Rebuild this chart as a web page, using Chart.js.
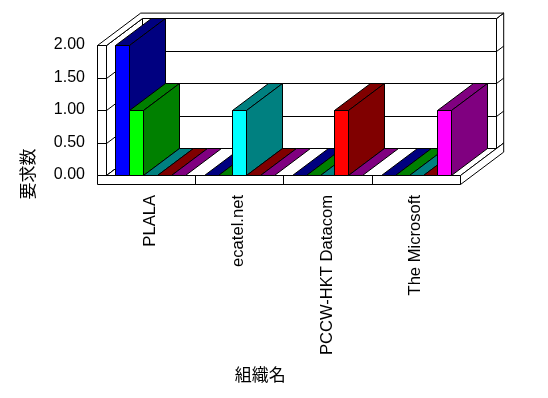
<!DOCTYPE html>
<html>
<head>
<meta charset="utf-8">
<script src="https://cdn.jsdelivr.net/npm/chart.js@4/dist/chart.umd.min.js"></script>
<style>
    html, body { margin: 0; padding: 0; background: #fff; }
    canvas { display: block; }
</style>
</head>
<body>
<canvas id="chart" width="548" height="398"></canvas>
<script>
// 数据：组织名 × 5 个系列（要求数）
var categories = ['PLALA', 'ecatel.net', 'PCCW-HKT Datacom', 'The Microsoft'];
var seriesA = [2, 0, 0, 0];
var seriesB = [1, 0, 0, 0];
var seriesC = [0, 1, 0, 0];
var seriesD = [0, 0, 1, 0];
var seriesE = [0, 0, 0, 1];
var yMin = 0;
var yMax = 2;
var yStep = 0.5;
var xTitle = '組織名';
var yTitle = '要求数';

// 正面色 / 侧面色（Excel 默认 3D 柱形配色）
var FRONT_COLORS = ['#0000ff', '#00ff00', '#00ffff', '#ff0000', '#ff00ff'];
var SIDE_COLORS = ['#000080', '#008000', '#008080', '#800000', '#800080'];

// 3D 投影参数
var DEPTH_X = 36;
var DEPTH_Y = -27;
var WALL = 9;        // 左墙 / 地板厚度
var BACK = 0.2;      // 背墙厚度（相对深度）

function proj(x, y, z) {
    return [x + z * DEPTH_X, y + z * DEPTH_Y];
}

function poly(ctx, pts, fill) {
    ctx.beginPath();
    ctx.moveTo(pts[0][0], pts[0][1]);
    for (var i = 1; i < pts.length; i++) {
        ctx.lineTo(pts[i][0], pts[i][1]);
    }
    ctx.closePath();
    ctx.fillStyle = fill;
    ctx.fill();
    ctx.stroke();
}

function line(ctx, a, b) {
    ctx.beginPath();
    ctx.moveTo(a[0], a[1]);
    ctx.lineTo(b[0], b[1]);
    ctx.stroke();
}

var frame3d = {
    id: 'frame3d',
    beforeDatasetsDraw: function (chart) {
        var ctx = chart.ctx;
        var area = chart.chartArea;
        var yScale = chart.scales.y;
        var xScale = chart.scales.x;
        var L = Math.round(area.left) + 0.5;
        var R = Math.round(area.right) + 0.5;
        var T = Math.round(area.top) + 0.5;
        var B = Math.round(area.bottom) + 0.5;
        var tickYs = yScale.ticks.map(function (t) {
            return Math.round(yScale.getPixelForValue(t.value)) + 0.5;
        });

        ctx.save();
        ctx.strokeStyle = '#000';
        ctx.lineWidth = 1;

        // 背墙内面 + 网格线
        poly(ctx, [proj(L, T, 1), proj(R, T, 1), proj(R, B, 1), proj(L, B, 1)], '#fff');
        tickYs.forEach(function (ty) {
            line(ctx, proj(L, ty, 1), proj(R, ty, 1));
        });
        // 背墙右端面
        poly(ctx, [proj(R, T, 1), proj(R, B, 1), proj(R, B, 1 + BACK), proj(R, T, 1 + BACK)], '#fff');
        tickYs.forEach(function (ty) {
            line(ctx, proj(R, ty, 1), proj(R, ty, 1 + BACK));
        });
        // 左墙内面
        poly(ctx, [proj(L, T, 0), proj(L, T, 1), proj(L, B, 1), proj(L, B, 0)], '#fff');
        tickYs.forEach(function (ty) {
            line(ctx, proj(L, ty, 0), proj(L, ty, 1));
        });
        // 墙顶
        poly(ctx, [
            proj(L - WALL, T, 0), proj(L, T, 0), proj(L, T, 1), proj(R, T, 1),
            proj(R, T, 1 + BACK), proj(L - WALL, T, 1 + BACK)
        ], '#fff');
        // 左墙正面 + 刻度
        poly(ctx, [[L - WALL, T], [L, T], [L, B], [L - WALL, B]], '#fff');
        tickYs.forEach(function (ty) {
            line(ctx, [L - WALL, ty], [L, ty]);
        });
        // 地板顶面 / 右端面 / 正面
        poly(ctx, [proj(L, B, 0), proj(R, B, 0), proj(R, B, 1), proj(L, B, 1)], '#fff');
        poly(ctx, [proj(R, B, 0), proj(R, B + WALL, 0), proj(R, B + WALL, 1 + BACK), proj(R, B, 1 + BACK)], '#fff');
        poly(ctx, [[L - WALL, B], [R, B], [R, B + WALL], [L - WALL, B + WALL]], '#fff');
        for (var i = 0; i < categories.length - 1; i++) {
            var sx = Math.round((xScale.getPixelForValue(i) + xScale.getPixelForValue(i + 1)) / 2) + 0.5;
            line(ctx, [sx, B], [sx, B + WALL]);
        }

        // 柱体：按分类从左到右、系列从左到右绘制
        for (var c = 0; c < categories.length; c++) {
            for (var d = 0; d < chart.data.datasets.length; d++) {
                var bar = chart.getDatasetMeta(d).data[c];
                var x0 = Math.round(bar.x - bar.width / 2) + 0.5;
                var x1 = Math.round(bar.x + bar.width / 2) + 0.5;
                var top = Math.round(bar.y) + 0.5;
                var base = Math.round(bar.base) + 0.5;
                poly(ctx, [[x0, top], [x1, top], [x1, base], [x0, base]], FRONT_COLORS[d]);
                poly(ctx, [proj(x0, top, 0), proj(x1, top, 0), proj(x1, top, 1), proj(x0, top, 1)], SIDE_COLORS[d]);
                if (base - top > 0) {
                    poly(ctx, [proj(x1, top, 0), proj(x1, base, 0), proj(x1, base, 1), proj(x1, top, 1)], SIDE_COLORS[d]);
                }
            }
        }
        ctx.restore();
        return false;
    },
    afterDraw: function (chart) {
        var ctx = chart.ctx;
        var area = chart.chartArea;
        ctx.save();
        ctx.fillStyle = '#000';
        ctx.font = '17px "Noto Sans CJK JP", sans-serif';
        ctx.textAlign = 'center';
        ctx.textBaseline = 'middle';
        ctx.fillText(xTitle, area.left + (area.right - area.left) * 0.436, 375);
        ctx.translate(28, area.bottom - 1);
        ctx.rotate(-Math.PI / 2);
        ctx.fillText(yTitle, 0, 0);
        ctx.restore();
    }
};

var datasets = [seriesA, seriesB, seriesC, seriesD, seriesE].map(function (vals, k) {
    return {
        data: vals,
        backgroundColor: FRONT_COLORS[k],
        borderWidth: 0,
        categoryPercentage: 0.79,
        barPercentage: 1
    };
});

new Chart(document.getElementById('chart'), {
    type: 'bar',
    data: { labels: categories, datasets: datasets },
    plugins: [frame3d],
    options: {
        responsive: false,
        animation: false,
        layout: { padding: { top: 45, right: 88, left: 0, bottom: 0 } },
        plugins: {
            legend: { display: false },
            tooltip: { enabled: false }
        },
        scales: {
            x: {
                grid: { display: false, drawTicks: false },
                border: { display: false },
                ticks: {
                    color: '#000',
                    font: { family: '"Liberation Sans", Arial, sans-serif', size: 16.6 },
                    minRotation: 90,
                    maxRotation: 90,
                    autoSkip: false,
                    padding: 20
                },
                afterFit: function (scale) { scale.height = 223; }
            },
            y: {
                min: yMin,
                max: yMax,
                grid: { display: false, drawTicks: false },
                border: { display: false },
                ticks: {
                    stepSize: yStep,
                    color: '#000',
                    font: { family: '"Liberation Sans", Arial, sans-serif', size: 16 },
                    padding: 21,
                    callback: function (v) { return Number(v).toFixed(2); }
                },
                afterFit: function (scale) { scale.width = 106; }
            }
        }
    }
});
</script>
</body>
</html>
